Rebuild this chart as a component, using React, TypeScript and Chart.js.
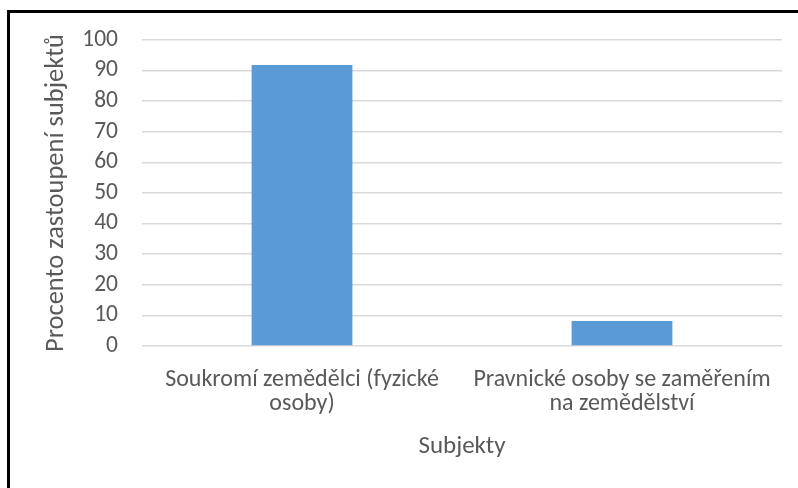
import React, { useEffect, useRef } from "react";
import { Chart, registerables } from "chart.js";

Chart.register(...registerables);

const categories: string[][] = [
  ["Soukromí zemědělci (fyzické", "osoby)"],
  ["Pravnické osoby se zaměřením", "na zemědělství"],
];
const values: number[] = [91.8, 8.2];
const yTitle = "Procento zastoupení subjektů";
const xTitle = "Subjekty";

const FONT = "Carlito, 'Open Sans', sans-serif";
const TEXT = "#595959";

export default function App() {
  const ref = useRef<HTMLCanvasElement>(null);
  useEffect(() => {
    if (!ref.current) return;
    const chart = new Chart(ref.current, {
      type: "bar",
      data: {
        labels: categories,
        datasets: [
          {
            data: values,
            backgroundColor: "#5B9BD5",
            categoryPercentage: 1,
            barPercentage: 0.315,
          },
        ],
      },
      options: {
        animation: false,
        responsive: false,
        maintainAspectRatio: false,
        layout: { padding: { left: 28, right: 16, top: 40, bottom: 0 } },
        plugins: { legend: { display: false }, tooltip: { enabled: false } },
        scales: {
          x: {
            grid: { display: false, drawTicks: false },
            border: { display: false },
            ticks: {
              color: TEXT,
              font: { family: FONT, size: 24, lineHeight: 1.0 },
              padding: 22,
              maxRotation: 0,
              autoSkip: false,
            },
            title: {
              display: true,
              text: xTitle,
              color: TEXT,
              font: { family: FONT, size: 25, lineHeight: 1.2 },
              padding: { top: 0, bottom: 26 },
            },
            afterFit: (s: any) => {
              s.height = 142;
            },
          },
          y: {
            min: 0,
            max: 100,
            grid: { color: "#d9d9d9", lineWidth: 1.5, drawTicks: false },
            border: { display: false },
            ticks: {
              stepSize: 10,
              autoSkip: false,
              color: TEXT,
              font: { family: FONT, size: 23.5, lineHeight: 1.0 },
              padding: 24,
            },
            title: {
              display: true,
              text: yTitle,
              color: TEXT,
              font: { family: FONT, size: 26.5, lineHeight: 1.2 },
              padding: { top: 12, bottom: 0 },
            },
            afterFit: (s: any) => {
              s.width = 114;
            },
          },
        },
      },
    });
    return () => chart.destroy();
  }, []);
  return (
    <div style={{ position: "fixed", left: 0, top: 0, width: 798, height: 488, background: "#fff" }}>
      <canvas ref={ref} width={798} height={488} style={{ position: "absolute", left: 0, top: 0 }} />
      <div
        style={{
          position: "absolute",
          left: 7,
          top: 10,
          width: 791,
          height: 478,
          borderTop: "3px solid #000",
          borderLeft: "3px solid #000",
          boxSizing: "border-box",
          pointerEvents: "none",
        }}
      />
    </div>
  );
}
